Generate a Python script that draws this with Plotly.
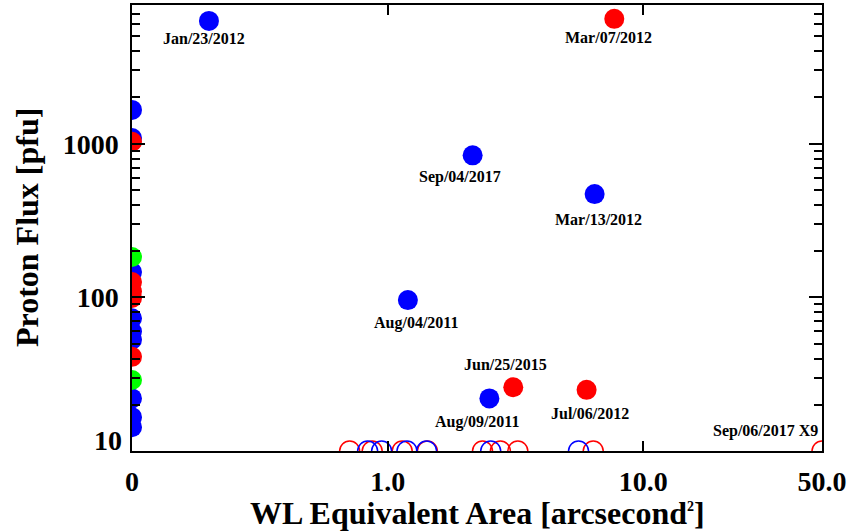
import numpy as np
import plotly.graph_objects as go

# ---------------- data ----------------
# axis floors: x "0" is drawn at the left edge (0.1), no-flux events at y floor (10)
X_ZERO = 0.1
Y_FLOOR = 10.0

# labelled events (filled circles)
blue_labels = ["Jan/23/2012", "Sep/04/2017", "Mar/13/2012", "Aug/04/2011", "Aug/09/2011"]
blue_area = [0.20, 2.15, 6.45, 1.20, 2.50]
blue_flux = [6300, 840, 470, 96, 22]

red_labels = ["Mar/07/2012", "Jun/25/2015", "Jul/06/2012"]
red_area = [7.7, 3.10, 6.0]
red_flux = [6500, 26, 25]

# events with zero WL area (drawn on the left edge)
zero_blue_flux = [1660, 1090, 146, 73, 60, 53, 22, 16.6, 14.3]
zero_red_flux = [1030, 126, 109, 99, 41]
zero_green_flux = [183, 29]

# events with no proton flux (open circles at floor)
nof_red_area = [0.71, 0.87, 1.14, 1.43, 2.35, 2.76, 3.23, 6.37, 50.0]
nof_blue_area = [0.835, 0.947, 1.19, 1.42, 2.53, 5.58]
x9_label = "Sep/06/2017 X9"
x9_area = 50.0

x_tickvals = [0.1, 1, 10, 50]
x_ticktext = ["0", "1.0", "10.0", "50.0"]
y_tickvals = [100, 1000]
y_ticktext = ["100", "1000"]
y_floor_label = "10"

# label offsets in px (dx, dy) relative to point (screen coords, dy positive = down)
blue_off = [(-5, 18), (-13, 22), (4, 25), (8, 23), (-12, 24)]
red_off = [(-6, 19), (-8, -23), (3, 24)]

BLUE = "#0000FF"
RED = "#FF0000"
GREEN = "#00FF00"
FONT = "Liberation Serif"

fig = go.Figure()

def filled(x, y, color):
    fig.add_trace(go.Scatter(x=x, y=y, mode="markers",
                             marker=dict(size=20, color=color, line=dict(width=0)),
                             showlegend=False, hoverinfo="skip"))

def opened(x, y, color):
    fig.add_trace(go.Scatter(x=x, y=y, mode="markers",
                             marker=dict(size=20, symbol="circle-open", color=color,
                                         line=dict(width=1.5, color=color)),
                             showlegend=False, hoverinfo="skip"))

opened(nof_red_area, [Y_FLOOR] * len(nof_red_area), RED)
opened(nof_blue_area, [Y_FLOOR] * len(nof_blue_area), BLUE)
filled([X_ZERO] * len(zero_blue_flux), zero_blue_flux, BLUE)
filled([X_ZERO] * len(zero_green_flux), zero_green_flux, GREEN)
filled([X_ZERO] * len(zero_red_flux), zero_red_flux, RED)
filled(blue_area, blue_flux, BLUE)
filled(red_area, red_flux, RED)

lab_font = dict(family=FONT, size=16, color="black", weight="bold")
for lab, xv, yv, (dx, dy) in zip(blue_labels + red_labels, blue_area + red_area,
                                  blue_flux + red_flux, blue_off + red_off):
    fig.add_annotation(x=np.log10(xv), y=np.log10(yv), xref="x", yref="y", text=lab,
                       showarrow=False, xshift=dx, yshift=-dy, font=lab_font,
                       xanchor="center", yanchor="middle")
fig.add_annotation(x=np.log10(x9_area), y=np.log10(Y_FLOOR), xref="x", yref="y", text=x9_label,
                   showarrow=False, xshift=-57, yshift=20, font=lab_font,
                   xanchor="center", yanchor="middle")

tick_font = dict(family=FONT, size=28, color="black", weight="bold")
# "10" y label sits slightly above its tick in the reference
fig.add_annotation(x=0, xref="paper", y=np.log10(Y_FLOOR), yref="y", text=y_floor_label,
                   showarrow=False, xanchor="right", yanchor="middle", xshift=-8, yshift=11,
                   font=tick_font)

# axis titles
title_font = dict(family=FONT, size=32, color="black", weight="bold")
fig.add_annotation(x=0.5, xref="paper", y=0, yref="paper", yanchor="middle", yshift=-62,
                   text="WL Equivalent Area [arcsecond<sup><span style='font-size:14px'>2</span></sup>]",
                   showarrow=False, font=title_font)
fig.add_annotation(x=0, xref="paper", xanchor="center", xshift=-105, y=0.5, yref="paper",
                   text="Proton Flux [pfu]", textangle=-90, showarrow=False, font=title_font)

minor_y = [m * 10 ** e for e in (1, 2, 3) for m in range(2, 10)]

fig.update_xaxes(type="log", range=[np.log10(0.1), np.log10(50)], tickmode="array",
                 tickvals=x_tickvals, ticktext=x_ticktext, ticks="inside", ticklen=10,
                 tickwidth=1.5, tickcolor="black", showline=True, linecolor="black",
                 linewidth=2, mirror="ticks", showgrid=False, zeroline=False,
                 tickfont=tick_font, ticklabelstandoff=4, automargin=False)
fig.update_yaxes(type="log", range=[np.log10(10), np.log10(8000)], tickmode="array",
                 tickvals=y_tickvals, ticktext=y_ticktext, ticks="inside", ticklen=13,
                 tickwidth=1.5, tickcolor="black", showline=True, linecolor="black",
                 linewidth=1.5, mirror="ticks", showgrid=False, zeroline=False,
                 tickfont=tick_font, ticklabelstandoff=6, automargin=False,
                 minor=dict(tickmode="array", tickvals=minor_y, ticks="inside", ticklen=8,
                            tickwidth=1.5, tickcolor="black", showgrid=False))

fig.update_layout(width=852, height=531, margin=dict(l=132, r=30, t=5, b=80),
                  plot_bgcolor="white", paper_bgcolor="white", showlegend=False)

fig.write_html("out.html", config={"displayModeBar": False},
               post_script="document.body.style.margin='0';document.body.style.overflow='hidden';")
